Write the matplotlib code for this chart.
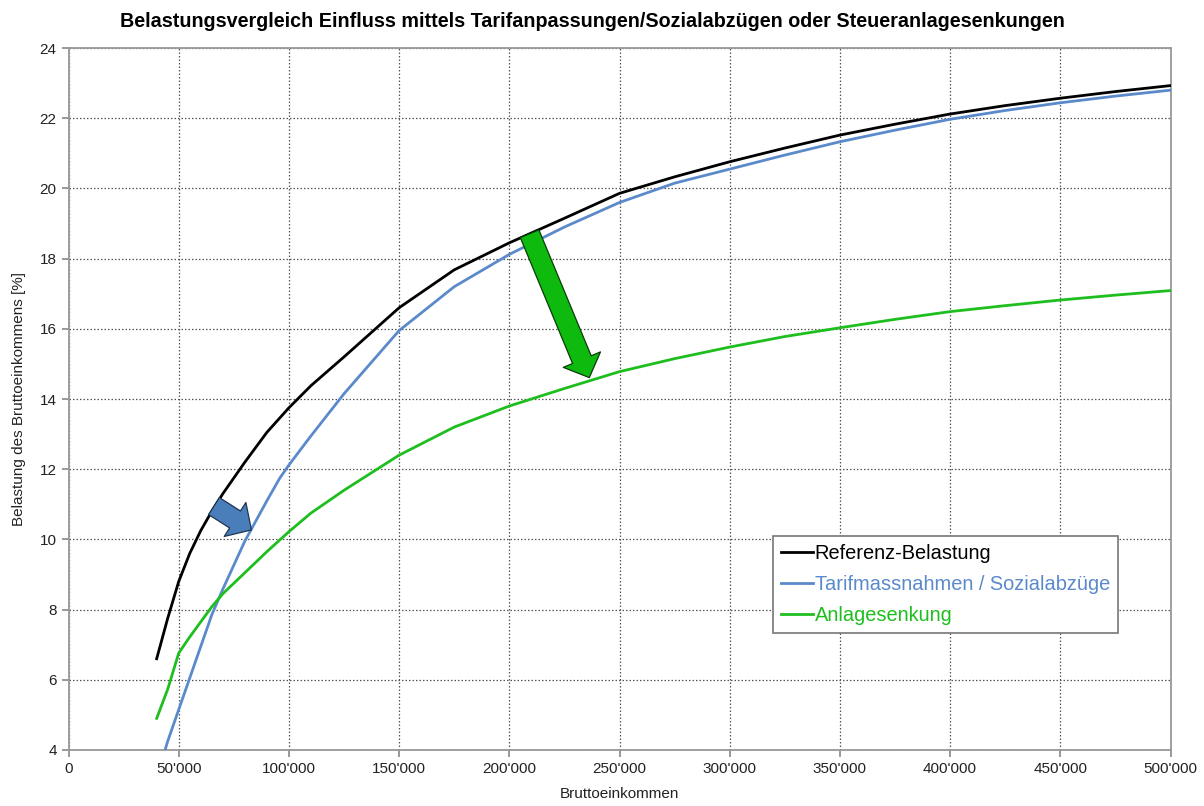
import matplotlib
matplotlib.use("Agg")
import matplotlib.pyplot as plt
from matplotlib.patches import FancyArrowPatch, ArrowStyle
from matplotlib.ticker import FuncFormatter, MultipleLocator

plt.rcParams['font.family'] = ['Liberation Sans', 'DejaVu Sans']

# Referenz-Belastung: Bruttoeinkommen (CHF) und Belastung in %
ref_einkommen = [40000, 45000, 50000, 55000, 60000, 65000, 70000, 80000, 90000,
                 100000, 110000, 125000, 150000, 175000, 200000, 225000, 250000,
                 275000, 300000, 325000, 350000, 375000, 400000, 425000, 450000,
                 475000, 500000]
referenz = [6.6, 7.75, 8.8, 9.6, 10.25, 10.8, 11.3, 12.2, 13.05,
            13.75, 14.38, 15.2, 16.6, 17.68, 18.45, 19.15, 19.86,
            20.33, 20.76, 21.15, 21.52, 21.83, 22.12, 22.36, 22.57,
            22.76, 22.93]

# Tarifmassnahmen / Sozialabzüge
tarif_einkommen = [40000, 45000, 50000, 55000, 60000, 65000, 70000, 80000, 90000,
                   95800, 100000, 110000, 125000, 150000, 175000, 200000, 225000,
                   250000, 275000, 300000, 325000, 350000, 375000, 400000, 425000,
                   450000, 475000, 500000]
tarif = [3.2, 4.25, 5.15, 6.05, 6.95, 7.85, 8.58, 9.95, 11.1,
         11.74, 12.12, 12.95, 14.15, 15.95, 17.2, 18.12, 18.9,
         19.6, 20.15, 20.55, 20.95, 21.33, 21.66, 21.97, 22.22,
         22.44, 22.63, 22.8]

# Anlagesenkung
anlage_einkommen = [40000, 45000, 50000, 55000, 60000, 65000, 70000, 80000, 90000,
                    100000, 110000, 125000, 150000, 175000, 200000, 225000, 250000,
                    275000, 300000, 325000, 350000, 375000, 400000, 425000, 450000,
                    475000, 500000]
anlage = [4.9, 5.73, 6.76, 7.22, 7.65, 8.08, 8.45, 9.05, 9.65,
          10.22, 10.75, 11.4, 12.4, 13.2, 13.8, 14.3, 14.78,
          15.15, 15.48, 15.78, 16.03, 16.27, 16.49, 16.66, 16.82,
          16.96, 17.09]

labels = ["Referenz-Belastung", "Tarifmassnahmen / Sozialabzüge", "Anlagesenkung"]
farben = ["#000000", "#5B8ACB", "#1EBE1E"]

fig = plt.figure(figsize=(12.04, 8.06), dpi=100)
ax = fig.add_axes([0.0569, 0.0695, 0.9153, 0.8709])

ax.plot(ref_einkommen, referenz, color=farben[0], lw=2.0, label=labels[0],
        zorder=3, solid_joinstyle="round")
ax.plot(tarif_einkommen, tarif, color=farben[1], lw=2.0, label=labels[1],
        zorder=3, solid_joinstyle="round")
ax.plot(anlage_einkommen, anlage, color=farben[2], lw=2.0, label=labels[2],
        zorder=3, solid_joinstyle="round")

ax.set_xlim(0, 500000)
ax.set_ylim(4, 24)
ax.xaxis.set_major_locator(MultipleLocator(50000))
ax.yaxis.set_major_locator(MultipleLocator(2))


def chf(v, pos):
    if v == 0:
        return "0"
    return f"{int(v):,}".replace(",", "'")


ax.xaxis.set_major_formatter(FuncFormatter(chf))
ax.grid(True, color="#555555", linestyle=(0, (1.2, 1.6)), linewidth=0.9)
ax.set_axisbelow(True)
for s in ax.spines.values():
    s.set_color("#999999")
    s.set_linewidth(1.3)
ax.tick_params(axis="both", colors="#888888", labelcolor="#222222",
               labelsize=11, length=5, width=1.2, direction="out")

ax.set_xlabel("Bruttoeinkommen", fontsize=11, color="#222222", labelpad=8)
ax.set_ylabel("Belastung des Bruttoeinkommens [%]", fontsize=11, color="#222222", labelpad=10)
fig.suptitle("Belastungsvergleich Einfluss mittels Tarifanpassungen/Sozialabzügen oder Steueranlagesenkungen",
             fontsize=14.2, fontweight="bold", y=0.985, x=0.4917)

# Pfeile: Wirkung der Massnahmen
pfeil_stil = ArrowStyle.Simple(head_length=14, head_width=29, tail_width=14.5)
pfeil_blau = FancyArrowPatch((66000, 10.95), (83000, 10.27), arrowstyle=pfeil_stil,
                             facecolor="#4A7EBB", edgecolor="#1F3550", lw=0.9, zorder=5,
                             shrinkA=0, shrinkB=0)
ax.add_patch(pfeil_blau)
pfeil_gruen = FancyArrowPatch((209200, 18.71), (236300, 14.61), arrowstyle=pfeil_stil,
                              facecolor="#0DBA0D", edgecolor="#0B3A0B", lw=0.9, zorder=5,
                              shrinkA=0, shrinkB=0)
ax.add_patch(pfeil_gruen)

leg = ax.legend(loc="upper left", bbox_to_anchor=(0.639, 0.305), fontsize=14.4,
                frameon=True, fancybox=False, edgecolor="#777777", framealpha=1,
                handlelength=1.6, handletextpad=0.1, borderpad=0.4, labelspacing=0.6,
                borderaxespad=0)
leg.get_frame().set_linewidth(1.2)
for txt, c in zip(leg.get_texts(), farben):
    txt.set_color(c)

fig.savefig("out.png", dpi=100)
